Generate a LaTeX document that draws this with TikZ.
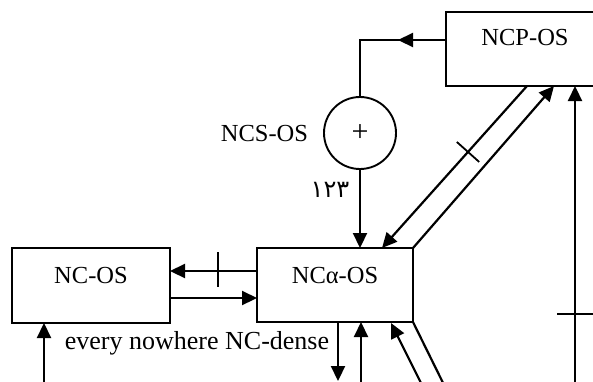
\documentclass[tikz,border=0pt]{standalone}
\usepackage{fontspec}
\setmainfont{Liberation Serif}
\newfontfamily\arabicfont[Script=Arabic]{DejaVu Sans}
\usetikzlibrary{arrows.meta,calc}
\begin{document}
\begin{tikzpicture}[x=1pt,y=-1pt,
  box/.style={draw,line width=1.9pt,inner sep=0pt,outer sep=0pt},
  lbl/.style={font=\fontsize{24.5}{28}\selectfont,inner sep=0pt},
  conn/.style={line width=2.2pt},
  arr/.style={conn,-{Triangle[length=15pt,width=14pt]}},
  tickmark/.style={line width=1.8pt}]
\useasboundingbox (0,0) rectangle (593,381);
\clip (0,0) rectangle (593,381);

% boxes and the summing junction
\node[box,minimum width=214pt,minimum height=74pt] (ncp) at (553,49) {};
\node[box,minimum width=158pt,minimum height=75pt] (nc) at (91,285.5) {};
\node[box,minimum width=156pt,minimum height=74pt] (nca) at (335,285) {};
\node[draw,circle,minimum size=72pt,line width=1.9pt,inner sep=0pt,
      font=\fontsize{30}{32}\selectfont] (sum) at (360,133) {+};

% labels
\node[lbl] (ncptext) at (525,38) {NCP-OS};
\node[lbl] (nctext) at (91,275) {NC-OS};
\node[lbl] (ncatext) at (335,275) {NCα-OS};
\node[lbl] (ncstext) at (264.5,134) {NCS-OS};
\node[font=\arabicfont\fontsize{24}{26}\selectfont,inner sep=0pt] (num) at (330,190) {١٢٣};
\node[font=\fontsize{26}{30}\selectfont,anchor=base,inner sep=0pt] (dense) at (197,349) {every nowhere NC-dense};

% NCP-OS feeds the junction
\coordinate (ncpL) at ($(ncp.south west)+(0,-46)$);
\coordinate (midtip) at (398,40);
\draw[line width=1.5pt] (ncpL) -| (sum.north);
\draw[arr] (ncpL) -- (midtip);
\draw[arr] (sum.south) -- (nca.north -| sum.south);

% diagonal links between NCalpha-OS and NCP-OS
\coordinate (pUp) at ($(ncp.south west)+(108,0)$);
\coordinate (pDownFrom) at ($(ncp.south west)+(81,0)$);
\coordinate (pDownTo) at ($(nca.north west)+(125,0)$);
\draw[arr] (nca.north east) -- (pUp);
\draw[arr] (pDownFrom) -- (pDownTo);
\coordinate (tk) at ($(pDownFrom)!0.407!(pDownTo)$);
\draw[tickmark] ($(tk)!15pt!90:(pDownTo)$) -- ($(tk)!15pt!-90:(pDownTo)$);

% links between NC-OS and NCalpha-OS
\coordinate (yA) at (0,271);
\coordinate (yB) at (0,298);
\draw[arr] (nca.west |- yA) -- (nc.east |- yA);
\coordinate (tkTop) at (218,252);
\coordinate (tkBot) at (218,287);
\draw[tickmark] (tkTop) -- (tkBot);
\draw[arr] (nc.east |- yB) -- (nca.west |- yB);

% lines leaving through the lower edge
\coordinate (inNC) at (44,395);
\draw[arr] (inNC) -- (inNC |- nc.south);
\coordinate (outDown) at (338,381);
\draw[arr] (outDown |- nca.south) -- (outDown);
\coordinate (inUp) at (361,395);
\draw[arr] (inUp) -- (inUp |- nca.south);
\coordinate (diagIn) at (427,395);
\coordinate (diagTip) at (391,323);
\draw[arr] (diagIn) -- (diagTip);
\coordinate (diagOut) at (449,395);
\draw[conn] (nca.south east) -- (diagOut);

% long feedback into NCP-OS
\coordinate (fbBase) at (575,395);
\draw[arr] (fbBase) -- (fbBase |- ncp.south);
\coordinate (fbL) at (557,314);
\coordinate (fbR) at (600,314);
\draw[tickmark] (fbL) -- (fbR);
\end{tikzpicture}
\end{document}
